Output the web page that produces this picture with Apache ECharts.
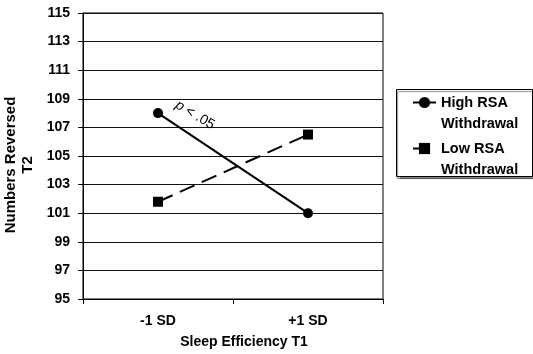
<!DOCTYPE html>
<html><head><meta charset="utf-8">
<script src="https://cdn.jsdelivr.net/npm/echarts@6/dist/echarts.min.js"></script>
<style>html,body{margin:0;padding:0;background:#fff}#c{width:533px;height:354px}</style>
</head><body><div id="c"></div>
<script>
const categories = ['-1 SD', '+1 SD'];
const highRSA = [108, 101];
const lowRSA = [101.8, 106.5];
const seriesNames = ['High RSA\nWithdrawal', 'Low RSA\nWithdrawal'];
const yMin = 95, yMax = 115, yStep = 2;

const chart = echarts.init(document.getElementById('c'));
const font = '"Liberation Sans", Arial, sans-serif';
const legendText = { color: '#000', fontFamily: font, fontWeight: 'bold', fontSize: 14.5, lineHeight: 21,
  rich: { e: { fontSize: 14, lineHeight: 21 } } };
const legendFmt = n => '{e| }\n' + n;
chart.setOption({
  animation: false,
  backgroundColor: '#fff',
  grid: { left: 83, top: 13, width: 300, height: 286, show: true, borderColor: '#000', borderWidth: 1,
    containLabel: false, outerBoundsMode: 'none' },
  xAxis: {
    type: 'category', data: categories,
    axisLine: { lineStyle: { color: '#000', width: 1 } },
    axisTick: { show: true, length: 5, lineStyle: { color: '#000' } },
    axisLabel: { color: '#000', fontFamily: font, fontWeight: 'bold', fontSize: 14, margin: 15 },
    name: 'Sleep Efficiency T1', nameLocation: 'middle', nameGap: 36,
    nameTextStyle: { color: '#000', fontFamily: font, fontWeight: 'bold', fontSize: 14, padding: [0, 0, 0, 22] }
  },
  yAxis: {
    type: 'value', min: yMin, max: yMax, interval: yStep,
    axisLine: { show: true, lineStyle: { color: '#000', width: 1 } },
    axisTick: { show: true, length: 5, lineStyle: { color: '#000' } },
    axisLabel: { color: '#000', fontFamily: font, fontWeight: 'bold', fontSize: 14, margin: 13 },
    splitLine: { show: true, lineStyle: { color: '#111', width: 1 } },
    name: 'Numbers Reversed\nT2', nameLocation: 'middle', nameGap: 38, nameRotate: 90,
    nameTextStyle: { color: '#000', fontFamily: font, fontWeight: 'bold', fontSize: 15, lineHeight: 16.5, align: 'center', padding: [0, 18, 0, 0] }
  },
  legend: [
    { orient: 'vertical', left: 412, top: 71, padding: 0, itemWidth: 23, itemHeight: 14,
      data: [seriesNames[0]], formatter: legendFmt, textStyle: legendText },
    { orient: 'vertical', left: 412, top: 117, padding: 0, itemWidth: 23, itemHeight: 14,
      data: [seriesNames[1]], formatter: legendFmt, textStyle: legendText }
  ],
  graphic: [
    { type: 'rect', left: 396, top: 89, shape: { width: 136, height: 87 }, z: 0,
      style: { fill: '#fff', stroke: '#000', lineWidth: 1, shadowColor: 'rgba(0,0,0,0.45)', shadowOffsetX: 1, shadowOffsetY: 2, shadowBlur: 1 } },
    { type: 'text', x: 195, y: 115, rotation: -31 * Math.PI / 180, z: 10,
      style: { text: '{i|p} < .05', align: 'center', verticalAlign: 'middle', fontFamily: font, fontSize: 14, fill: '#000',
        rich: { i: { fontStyle: 'italic', fontFamily: font, fontSize: 14 } } } }
  ],
  series: [
    { name: seriesNames[0], type: 'line', data: highRSA, symbol: 'circle', symbolSize: 10,
      itemStyle: { color: '#000' }, lineStyle: { color: '#000', width: 2, type: 'solid' } },
    { name: seriesNames[1], type: 'line', data: lowRSA, symbol: 'rect', symbolSize: 10,
      itemStyle: { color: '#000' }, lineStyle: { color: '#000', width: 2, type: [16, 8] } }
  ]
});
</script></body></html>
